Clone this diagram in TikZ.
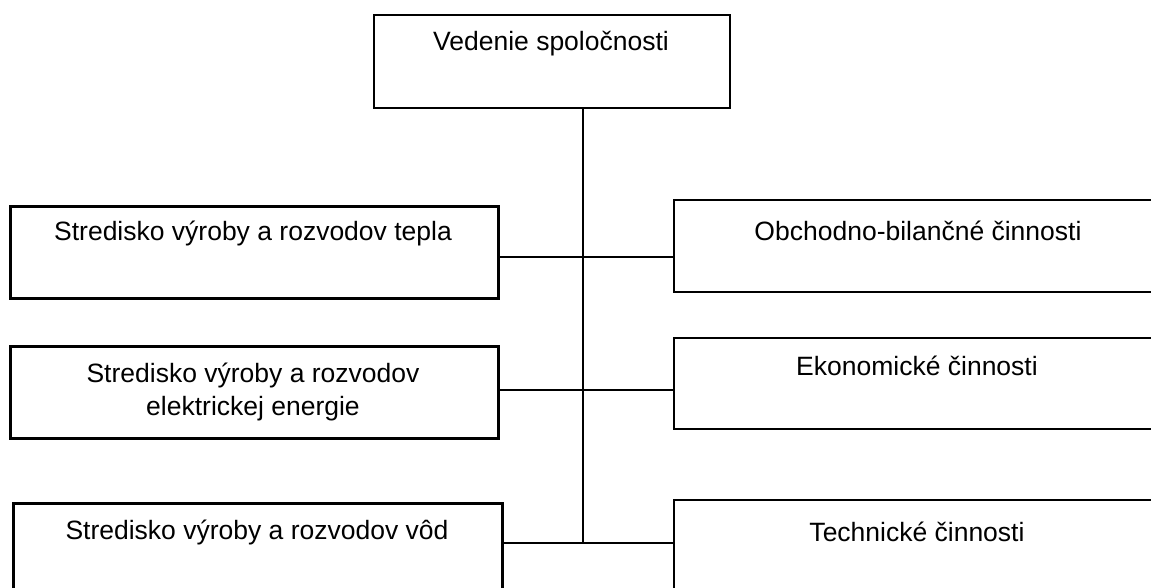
\documentclass[tikz,border=0pt]{standalone}
\usepackage{fontspec}
\setmainfont{Liberation Sans}
\begin{document}
\begin{tikzpicture}[x=1pt,y=-1pt,
  box/.style={draw, line width=2.2pt, inner sep=0pt, anchor=north west},
  lbox/.style={box, line width=3.4pt},
  lbl/.style={font=\fontsize{26.5}{33}\selectfont, align=center, inner sep=0pt},
  link/.style={line width=2.2pt}]
\useasboundingbox (0,0) rectangle (1151,588);
% boxes
\node[box, minimum width=356pt, minimum height=93pt] (top) at (373,14) {};
\node[lbox, minimum width=488pt, minimum height=92pt] (l1) at (9,205) {};
\node[lbox, minimum width=488pt, minimum height=92pt] (l2) at (9,345) {};
\node[lbox, minimum width=489pt, minimum height=110pt] (l3) at (12,502) {};
\node[box, minimum width=492pt, minimum height=92pt] (r1) at (673,199) {};
\node[box, minimum width=492pt, minimum height=91pt] (r2) at (673,337) {};
\node[box, minimum width=492pt, minimum height=110pt] (r3) at (673,499) {};
% texts
\node[lbl] (ttop) at (551,44) {Vedenie spoločnosti};
\node[lbl] (tl1) at (253,233) {Stredisko výroby a rozvodov tepla};
\node[lbl] (tl2) at (253,392) {Stredisko výroby a rozvodov\\elektrickej energie};
\node[lbl] (tl3) at (257,532) {Stredisko výroby a rozvodov vôd};
\node[lbl] (tr1) at (918,231) {Obchodno-bilančné činnosti};
\node[lbl] (tr2) at (917,366) {Ekonomické činnosti};
\node[lbl] (tr3) at (917,532) {Technické činnosti};
% connectors
\coordinate (j1) at (583,257);
\coordinate (j2) at (583,390);
\coordinate (j3) at (583,543);
\draw[link] (top.south -| j3) -- (j3);
\draw[link] (l1.east |- j1) -- (r1.west |- j1);
\draw[link] (l2.east |- j2) -- (r2.west |- j2);
\draw[link] (l3.east |- j3) -- (r3.west |- j3);
\end{tikzpicture}
\end{document}
